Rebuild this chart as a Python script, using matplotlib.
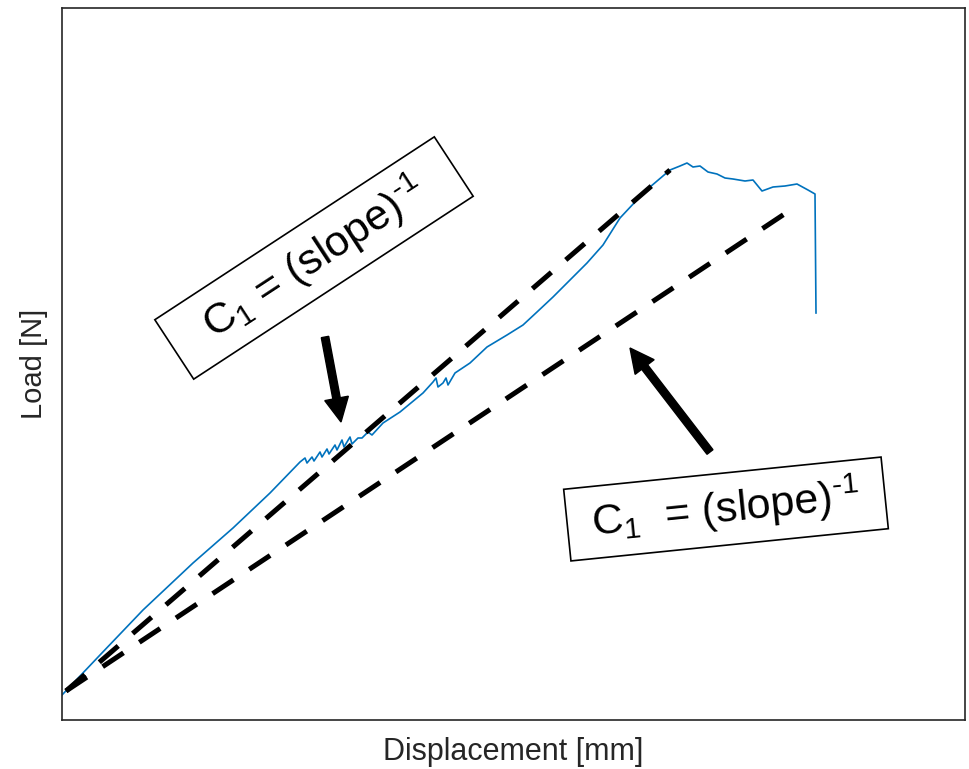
import matplotlib.pyplot as plt
from matplotlib.patches import Rectangle

plt.rcParams['font.family'] = ['Liberation Sans', 'DejaVu Sans']
plt.rcParams['mathtext.fontset'] = 'custom'
plt.rcParams['mathtext.rm'] = 'Liberation Sans'
plt.rcParams['mathtext.it'] = 'Liberation Sans:italic'

# Load-displacement record (arbitrary units, no ticks shown)
disp = [0.00, 0.38, 0.81, 1.31, 1.71, 2.08, 2.38, 2.43, 2.45, 2.50, 2.52,
        2.58, 2.60, 2.65, 2.67, 2.73, 2.75, 2.80, 2.82, 2.88, 2.90, 2.96,
        3.00, 3.06, 3.10, 3.21, 3.38, 3.61, 3.71, 3.74, 3.76, 3.81, 3.84,
        3.86, 3.93, 4.08, 4.25, 4.45, 4.61, 4.75, 4.91, 5.08, 5.25, 5.41,
        5.58, 5.73, 5.88, 6.08, 6.18, 6.25, 6.31, 6.38, 6.46, 6.55, 6.63,
        6.71, 6.83, 6.91, 7.00, 7.11, 7.23, 7.35, 7.46, 7.53, 7.54]
load = [0.25, 0.65, 1.10, 1.57, 1.92, 2.27, 2.58, 2.62, 2.57, 2.63, 2.59,
        2.68, 2.63, 2.71, 2.66, 2.75, 2.70, 2.80, 2.73, 2.83, 2.76, 2.82,
        2.82, 2.88, 2.85, 2.97, 3.08, 3.27, 3.38, 3.42, 3.33, 3.37, 3.42,
        3.35, 3.47, 3.57, 3.73, 3.85, 3.95, 4.08, 4.23, 4.40, 4.57, 4.75,
        5.02, 5.18, 5.33, 5.50, 5.54, 5.57, 5.53, 5.54, 5.48, 5.46, 5.42,
        5.41, 5.39, 5.40, 5.29, 5.33, 5.34, 5.36, 5.30, 5.26, 4.07]

# Secant lines used for the compliance C1
secant_x = [[0.04, 6.08], [0.04, 7.36]]
secant_y = [[0.29, 5.50], [0.29, 5.15]]

fig = plt.figure(figsize=(9.69, 7.69), dpi=100)
ax = fig.add_axes([62 / 969, 49 / 769, 903 / 969, 712 / 769])
ax.set_xlim(0, 9.03)
ax.set_ylim(0, 7.12)

ax.plot(disp, load, color='#0072BD', lw=1.2, zorder=2)
for sx, sy in zip(secant_x, secant_y):
    ax.plot(sx, sy, color='black', lw=3.6, dashes=(5, 3.8),
            dash_capstyle='butt', zorder=3)

# Annotation boxes
label = r'$\mathregular{C_1}$ = (slope)$^{\text{-1}}$'
label2 = r'$\mathregular{C_1}$  = (slope)$^{\text{-1}}$'
boxes = [(2.52, 4.62, 3.34, 0.71, 33.2, label),
         (6.64, 2.11, 3.19, 0.72, 5.8, label2)]
for cx, cy, w, h, ang, txt in boxes:
    ax.add_patch(Rectangle((cx - w / 2, cy - h / 2), w, h, angle=ang,
                           rotation_point='center', facecolor='white',
                           edgecolor='black', lw=1.2, zorder=4))
    ax.text(cx, cy, txt, rotation=ang, rotation_mode='anchor',
            ha='center', va='center', fontsize=31, zorder=5)

# Arrows pointing at the two secants
arrows = [(2.63, 3.83, 0.16, -0.85), (6.48, 2.68, -0.80, 1.04)]
for x0, y0, dx, dy in arrows:
    ax.arrow(x0, y0, dx, dy, width=0.075, head_width=0.24, head_length=0.24,
             length_includes_head=True, color='black', zorder=5)

ax.set_xticks([])
ax.set_yticks([])
for s in ax.spines.values():
    s.set_color('#262626')
    s.set_linewidth(1.2)
ax.set_xlabel('Displacement [mm]', fontsize=22, color='#262626', labelpad=12)
ax.set_ylabel('Load [N]', fontsize=21, color='#262626', labelpad=10)

fig.savefig('out.png', dpi=100)
